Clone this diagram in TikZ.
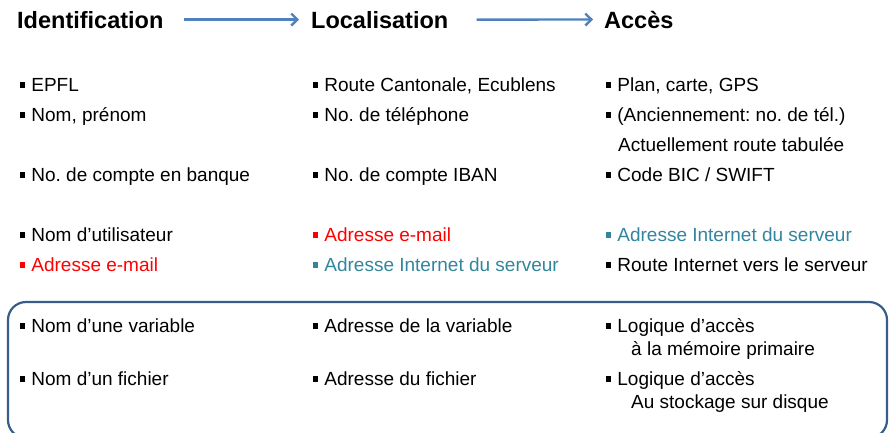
\documentclass[tikz,border=0pt]{standalone}
\usepackage{fontspec}
\setmainfont{Liberation Sans}
\usetikzlibrary{arrows.meta}
\definecolor{arrblue}{RGB}{79,129,189}
\definecolor{framblue}{RGB}{56,93,138}
\definecolor{teal2}{RGB}{49,133,156}
\newcommand\bul{\rule[3.5pt]{5.2pt}{5.2pt}\hspace{6pt}}
\frenchspacing
\tikzset{
  head/.style={anchor=base west,inner sep=0pt,font=\fontsize{23.5}{28}\selectfont\bfseries},
  item/.style={anchor=base west,inner sep=0pt,font=\fontsize{19}{22}\selectfont},
  redt/.style={item,text=red},
  tealt/.style={item,text=teal2},
  arr/.style={draw=arrblue,line width=2.4pt,-{Straight Barb[length=6pt,width=12pt]}},
  frame/.style={draw=framblue,line width=2.2pt,rounded corners=18pt}
}
\begin{document}
\frenchspacing
\begin{tikzpicture}[x=1pt,y=-1pt]
\useasboundingbox (0,0) rectangle (892,432);
% headers
\node[head] (id) at (17,28) {Identification};
\node[head] (loc) at (311,28) {Localisation};
\node[head] (acc) at (604,28) {Accès};
\draw[arr] ([xshift=20pt]id.east) -- ([xshift=-12pt]loc.west);
\draw[arr] ([xshift=28pt]loc.east) -- ([xshift=-11pt]acc.west);
% column 1
\node[item] (a1) at (20,91) {\bul EPFL};
\node[item] (a2) at (20,121) {\bul Nom, prénom};
\node[item] (a3) at (20,181) {\bul No. de compte en banque};
\node[item] (a4) at (20,241) {\bul Nom d’utilisateur};
\node[redt] (a5) at (20,271) {\bul Adresse e-mail};
\node[item] (a6) at (20,332) {\bul Nom d’une variable};
\node[item] (a7) at (20,385) {\bul Nom d’un fichier};
% column 2
\node[item] (b1) at (313,91) {\bul Route Cantonale, Ecublens};
\node[item] (b2) at (313,121) {\bul No. de téléphone};
\node[item] (b3) at (313,181) {\bul No. de compte IBAN};
\node[redt] (b4) at (313,241) {\bul Adresse e-mail};
\node[tealt] (b5) at (313,271) {\bul Adresse Internet du serveur};
\node[item] (b6) at (313,332) {\bul Adresse de la variable};
\node[item] (b7) at (313,385) {\bul Adresse du fichier};
% column 3
\node[item] (c1) at (606,91) {\bul Plan, carte, GPS};
\node[item] (c2) at (606,121) {\bul (Anciennement: no. de tél.)};
\node[item] (c2b) at (618,151) {Actuellement route tabulée};
\node[item] (c3) at (606,181) {\bul Code BIC / SWIFT};
\node[tealt] (c4) at (606,241) {\bul Adresse Internet du serveur};
\node[item] (c5) at (606,271) {\bul Route Internet vers le serveur};
\node[item] (c6) at (606,332) {\bul Logique d’accès};
\node[item] (c6b) at (631,355) {à la mémoire primaire};
\node[item] (c7) at (606,385) {\bul Logique d’accès};
\node[item] (c7b) at (631,408) {Au stockage sur disque};
% frame
\draw[frame] (8,302) rectangle (887,438);
\end{tikzpicture}
\end{document}
